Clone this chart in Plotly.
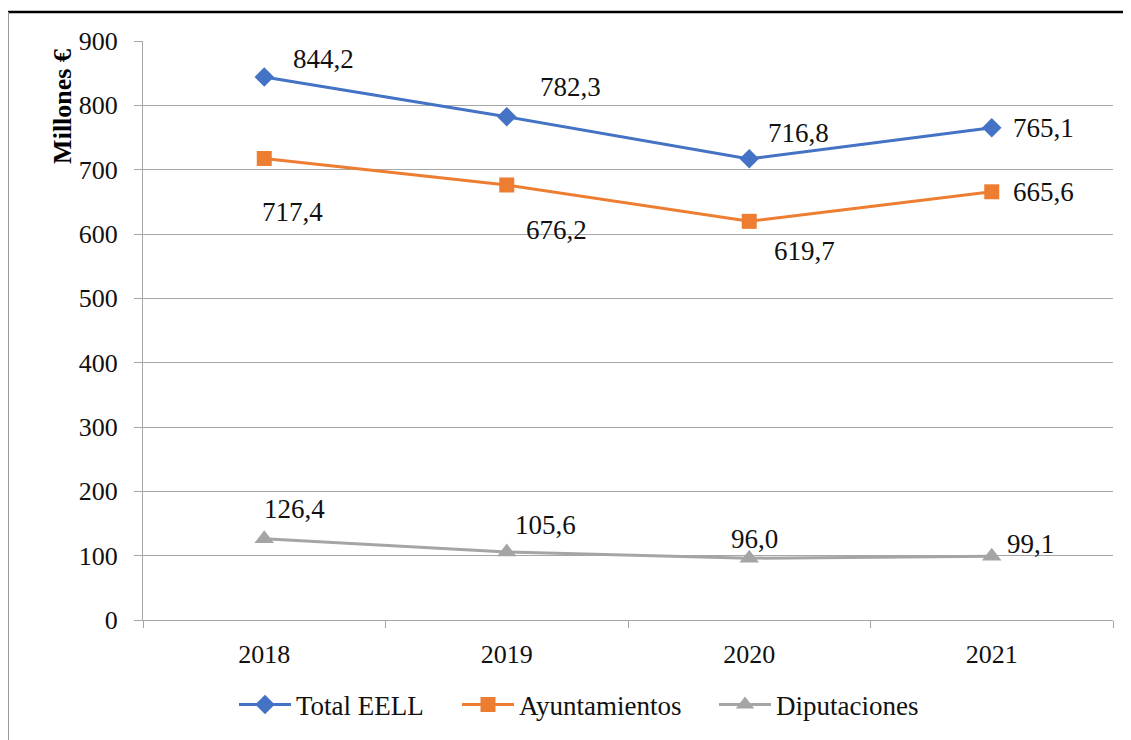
import plotly.graph_objects as go

years = ["2018", "2019", "2020", "2021"]
total_eell = [844.2, 782.3, 716.8, 765.1]
ayuntamientos = [717.4, 676.2, 619.7, 665.6]
diputaciones = [126.4, 105.6, 96.0, 99.1]
y_ticks = [0, 100, 200, 300, 400, 500, 600, 700, 800, 900]

FONT = "Times New Roman, Liberation Serif, DejaVu Serif, serif"
FS = 26
FS_LBL = 27

series = [
    ("Total EELL", total_eell, "#4472C4", "diamond", 15,
     [(59, 18), (64, 30), (49, 26), (52, 0)], "legend", 240),
    ("Ayuntamientos", ayuntamientos, "#ED7D31", "square", 15,
     [(28, -54), (50, -45), (55, -30), (52, 0)], "legend2", 463),
    ("Diputaciones", diputaciones, "#A5A5A5", "triangle-up", 17,
     [(30, 30), (39, 27), (5, 19), (39, 12)], "legend3", 720),
]

# page has an 8px body margin; figure is sized to fill the rest
OFF = 8
W, H = 1131 - OFF, 740 - OFF
L, R, T, B = 143 - OFF, 18, 41 - OFF, 119
pw, ph = W - L - R, H - T - B


def px_x(page_x):
    return (page_x - OFF - L) / pw


def px_y(page_y):
    return (H - B - (page_y - OFF)) / ph


fig = go.Figure()
annotations = []
legends = {}
for name, vals, color, sym, msize, offs, leg, leg_x in series:
    fig.add_trace(go.Scatter(
        x=years, y=vals, name=name, mode="lines+markers",
        line=dict(color=color, width=3),
        marker=dict(symbol=sym, size=msize, color=color),
        legend=leg,
    ))
    legends[leg] = dict(
        orientation="h", x=px_x(leg_x - 6), xanchor="left",
        y=px_y(705), yanchor="middle", itemwidth=52,
        bgcolor="rgba(0,0,0,0)",
        font=dict(family=FONT, size=FS_LBL, color="#111111"),
    )
    for i, (yv, (dx, dy)) in enumerate(zip(vals, offs)):
        annotations.append(dict(
            x=i, y=yv, xref="x", yref="y",
            text=f"{yv:.1f}".replace(".", ","),
            showarrow=False, xshift=dx, yshift=dy,
            font=dict(family=FONT, size=FS_LBL, color="#111111"),
        ))

annotations.append(dict(
    x=px_x(63), y=px_y(107), xref="paper", yref="paper",
    xanchor="center", yanchor="middle",
    text="<b>Millones €</b>", showarrow=False, textangle=-90,
    font=dict(family=FONT, size=FS, color="#000000"),
))

shapes = [
    dict(type="line", xref="paper", yref="paper",
         x0=px_x(8), x1=px_x(1135),
         y0=px_y(12), y1=px_y(12),
         line=dict(color="#000000", width=2.5)),
    dict(type="line", xref="paper", yref="paper",
         x0=px_x(8.5), x1=px_x(8.5),
         y0=px_y(12), y1=px_y(745),
         line=dict(color="#9a9a9a", width=1)),
]

fig.update_layout(
    width=W, height=H,
    margin=dict(l=L, r=R, t=T, b=B, pad=0),
    paper_bgcolor="white", plot_bgcolor="white",
    font=dict(family=FONT, size=FS, color="#111111"),
    showlegend=True,
    annotations=annotations,
    shapes=shapes,
    xaxis=dict(type="category", range=[-0.5, 3.5], tickson="boundaries",
               ticks="outside", ticklen=7, tickcolor="#a6a6a6",
               showgrid=False, showline=True, linecolor="#a6a6a6",
               linewidth=1, ticklabelstandoff=11, zeroline=False,
               tickangle=0, tickfont=dict(family=FONT, size=FS)),
    yaxis=dict(range=[0, 900], tickvals=y_ticks, ticks="outside",
               ticklen=8, tickcolor="#a6a6a6", showgrid=True,
               gridcolor="#a6a6a6", gridwidth=1,
               showline=True, linecolor="#a6a6a6", linewidth=1,
               zeroline=False, ticklabelstandoff=11,
               tickfont=dict(family=FONT, size=FS)),
    **legends,
)

fig.write_html("out.html")
